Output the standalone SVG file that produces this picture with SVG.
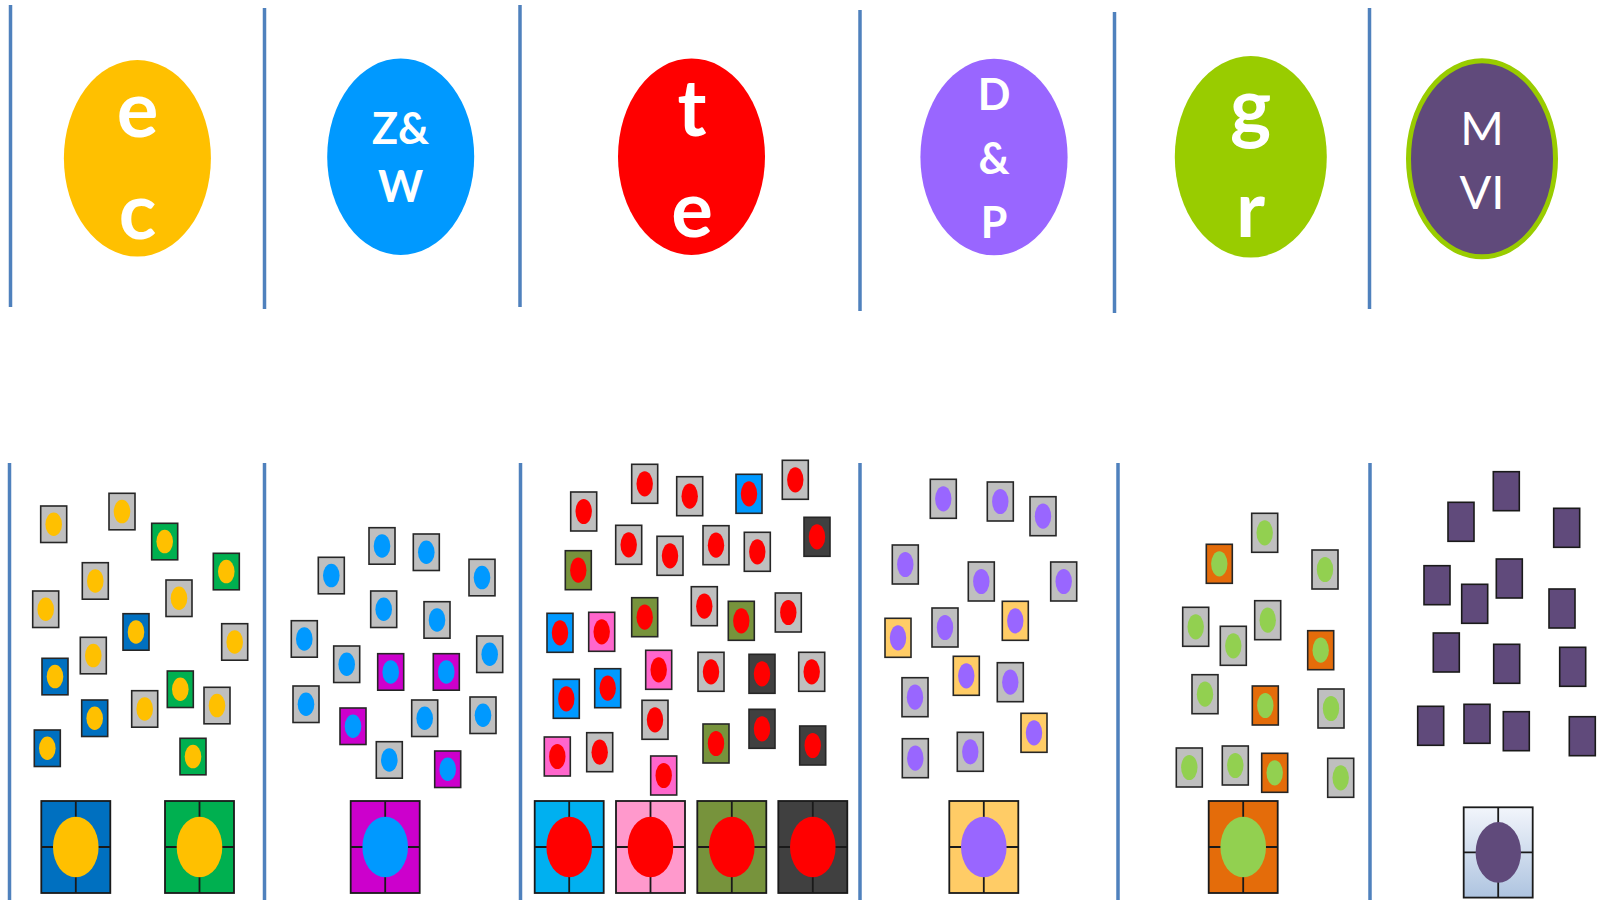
<svg xmlns="http://www.w3.org/2000/svg" xmlns:xlink="http://www.w3.org/1999/xlink" width="1602" height="900" viewBox="0 0 1602 900">
<style>
.sep{stroke:#4F81BD;stroke-width:3.5;fill:none}
.big{font-family:Lato,"Open Sans",sans-serif;font-weight:700;font-size:78px;fill:#fff;text-anchor:middle}
.mid{font-family:Lato,"Open Sans",sans-serif;font-weight:700;font-size:43px;fill:#fff;text-anchor:middle}
.reg{font-family:Lato,"Open Sans",sans-serif;font-weight:400;font-size:47px;fill:#fff;text-anchor:middle}
.gy{color:#BFBFBF}
</style>
<defs>
<g id="sA"><rect x="0" y="0" width="26" height="36.5" fill="currentColor" stroke="#262626" stroke-width="1.6"/><ellipse cx="13" cy="18.25" rx="8.3" ry="11.8"/></g>
<g id="sB"><rect x="0" y="0" width="26" height="39" fill="currentColor" stroke="#262626" stroke-width="1.6"/><ellipse cx="13" cy="19.5" rx="8.2" ry="12.6"/></g>
<g id="sC"><rect x="0" y="0" width="26" height="39" fill="currentColor" stroke="#1a1a1a" stroke-width="1.6"/></g>
<g id="bt"><rect x="0" y="0" width="69" height="92" fill="currentColor" stroke="#1a1a1a" stroke-width="1.8"/><path d="M34.5 0V92M0 46H69" stroke="#1a1a1a" stroke-width="1.8"/><ellipse cx="34.5" cy="46" rx="22.8" ry="30.3"/></g>
<linearGradient id="gr" x1="0" y1="0" x2="0" y2="1"><stop offset="0" stop-color="#F2F5FB"/><stop offset="1" stop-color="#AEC4E0"/></linearGradient>
</defs>

<g id="separators">
<line class="sep" x1="10.5" y1="5" x2="10.5" y2="307"/>
<line class="sep" x1="264.5" y1="8" x2="264.5" y2="309"/>
<line class="sep" x1="520" y1="5" x2="520" y2="307"/>
<line class="sep" x1="860" y1="10" x2="860" y2="311"/>
<line class="sep" x1="1114.5" y1="12" x2="1114.5" y2="313"/>
<line class="sep" x1="1369.5" y1="8" x2="1369.5" y2="309"/>
<line class="sep" x1="9.5" y1="463" x2="9.5" y2="900"/>
<line class="sep" x1="264.5" y1="463" x2="264.5" y2="900"/>
<line class="sep" x1="520.5" y1="463" x2="520.5" y2="900"/>
<line class="sep" x1="860" y1="463" x2="860" y2="900"/>
<line class="sep" x1="1118" y1="463" x2="1118" y2="900"/>
<line class="sep" x1="1370" y1="463" x2="1370" y2="900"/>
</g>

<g id="node-ec">
<ellipse cx="137.4" cy="158.3" rx="73.5" ry="98.3" fill="#FFC000"/>
<text class="big" x="137.5" y="137">e</text>
<text class="big" x="137.5" y="239">c</text>
</g>
<g id="node-zw">
<ellipse cx="400.7" cy="156.7" rx="73.5" ry="98.3" fill="#0099FF"/>
<text class="mid" x="400.5" y="144">Z&amp;</text>
<text class="mid" x="400.5" y="202">W</text>
</g>
<g id="node-te">
<ellipse cx="691.5" cy="156.7" rx="73.5" ry="98.3" fill="#FF0000"/>
<text class="big" x="692" y="136">t</text>
<text class="big" x="692" y="237">e</text>
</g>
<g id="node-dp">
<ellipse cx="994" cy="157" rx="73.6" ry="98.3" fill="#9966FF"/>
<text class="mid" x="994" y="110">D</text>
<text class="mid" x="994" y="174">&amp;</text>
<text class="mid" x="994" y="238">P</text>
</g>
<g id="node-gr">
<ellipse cx="1250.8" cy="156.8" rx="76" ry="100.8" fill="#99CC00"/>
<text class="big" x="1250.5" y="134">g</text>
<text class="big" x="1250.5" y="237">r</text>
</g>
<g id="node-mvi">
<ellipse cx="1482" cy="158.8" rx="73.5" ry="98" fill="#604A7B" stroke="#99CC00" stroke-width="5"/>
<text class="reg" x="1482" y="145">M</text>
<text class="reg" x="1482" y="209">VI</text>
</g>

<g id="group-ec" fill="#FFC000">
<use xlink:href="#sA" x="40.7" y="506" class="gy"/>
<use xlink:href="#sA" x="109" y="493.3" class="gy"/>
<use xlink:href="#sA" x="151.7" y="523.3" color="#00B050"/>
<use xlink:href="#sA" x="213.3" y="553.3" color="#00B050"/>
<use xlink:href="#sA" x="82.3" y="562.7" class="gy"/>
<use xlink:href="#sA" x="32.7" y="591" class="gy"/>
<use xlink:href="#sA" x="166" y="580" class="gy"/>
<use xlink:href="#sA" x="123" y="613.7" color="#0070C0"/>
<use xlink:href="#sA" x="221.7" y="623.7" class="gy"/>
<use xlink:href="#sA" x="80.3" y="637.3" class="gy"/>
<use xlink:href="#sA" x="42" y="658.3" color="#0070C0"/>
<use xlink:href="#sA" x="167.3" y="671" color="#00B050"/>
<use xlink:href="#sA" x="204" y="687.3" class="gy"/>
<use xlink:href="#sA" x="131.7" y="690.7" class="gy"/>
<use xlink:href="#sA" x="81.7" y="700" color="#0070C0"/>
<use xlink:href="#sA" x="34.3" y="730" color="#0070C0"/>
<use xlink:href="#sA" x="180" y="738.3" color="#00B050"/>
<use xlink:href="#bt" x="41.3" y="801" color="#0070C0"/>
<use xlink:href="#bt" x="165" y="801" color="#00B050"/>
</g>

<g id="group-zw" fill="#0099FF">
<use xlink:href="#sA" x="369" y="527.7" class="gy"/>
<use xlink:href="#sA" x="413.3" y="534" class="gy"/>
<use xlink:href="#sA" x="318.3" y="557.3" class="gy"/>
<use xlink:href="#sA" x="469" y="559.3" class="gy"/>
<use xlink:href="#sA" x="370.7" y="591" class="gy"/>
<use xlink:href="#sA" x="424" y="601.7" class="gy"/>
<use xlink:href="#sA" x="291.3" y="620.7" class="gy"/>
<use xlink:href="#sA" x="333.7" y="646" class="gy"/>
<use xlink:href="#sA" x="377.7" y="653.7" color="#CC00CC"/>
<use xlink:href="#sA" x="433.3" y="653.7" color="#CC00CC"/>
<use xlink:href="#sA" x="476.7" y="636" class="gy"/>
<use xlink:href="#sA" x="293" y="686" class="gy"/>
<use xlink:href="#sA" x="340" y="708" color="#CC00CC"/>
<use xlink:href="#sA" x="411.7" y="700" class="gy"/>
<use xlink:href="#sA" x="470" y="697" class="gy"/>
<use xlink:href="#sA" x="376.3" y="741.7" class="gy"/>
<use xlink:href="#sA" x="434.7" y="751" color="#CC00CC"/>
<use xlink:href="#bt" x="350.7" y="801" color="#CC00CC"/>
</g>

<g id="group-te" fill="#FF0000">
<use xlink:href="#sB" x="570.7" y="492" class="gy"/>
<use xlink:href="#sB" x="631.7" y="464.3" class="gy"/>
<use xlink:href="#sB" x="676.7" y="476.7" class="gy"/>
<use xlink:href="#sB" x="736" y="474.3" color="#0099FF"/>
<use xlink:href="#sB" x="782.3" y="460.3" class="gy"/>
<use xlink:href="#sB" x="804" y="517.3" color="#404040"/>
<use xlink:href="#sB" x="565.3" y="550.7" color="#77933C"/>
<use xlink:href="#sB" x="615.7" y="525.3" class="gy"/>
<use xlink:href="#sB" x="657" y="536.3" class="gy"/>
<use xlink:href="#sB" x="703" y="525.7" class="gy"/>
<use xlink:href="#sB" x="744.3" y="532.3" class="gy"/>
<use xlink:href="#sB" x="547" y="613.3" color="#0099FF"/>
<use xlink:href="#sB" x="588.7" y="612.3" color="#FF66CC"/>
<use xlink:href="#sB" x="631.7" y="597.7" color="#77933C"/>
<use xlink:href="#sB" x="691.3" y="586.7" class="gy"/>
<use xlink:href="#sB" x="728.3" y="601.3" color="#77933C"/>
<use xlink:href="#sB" x="775.3" y="593" class="gy"/>
<use xlink:href="#sB" x="645.7" y="650.3" color="#FF66CC"/>
<use xlink:href="#sB" x="698" y="652.3" class="gy"/>
<use xlink:href="#sB" x="749" y="654.3" color="#404040"/>
<use xlink:href="#sB" x="798.7" y="652.3" class="gy"/>
<use xlink:href="#sB" x="553.3" y="679.3" color="#0099FF"/>
<use xlink:href="#sB" x="594.7" y="668.7" color="#0099FF"/>
<use xlink:href="#sB" x="642" y="700.3" class="gy"/>
<use xlink:href="#sB" x="703" y="724" color="#77933C"/>
<use xlink:href="#sB" x="749" y="709.3" color="#404040"/>
<use xlink:href="#sB" x="799.7" y="726" color="#404040"/>
<use xlink:href="#sB" x="544.3" y="737" color="#FF66CC"/>
<use xlink:href="#sB" x="586.7" y="732.7" class="gy"/>
<use xlink:href="#sB" x="650.7" y="756" color="#FF66CC"/>
<use xlink:href="#bt" x="534.7" y="801" color="#00B0F0"/>
<use xlink:href="#bt" x="616" y="801" color="#FF99CC"/>
<use xlink:href="#bt" x="697.3" y="801" color="#77933C"/>
<use xlink:href="#bt" x="778.3" y="801" color="#404040"/>
</g>

<g id="group-dp" fill="#9966FF">
<use xlink:href="#sB" x="930.3" y="479.3" class="gy"/>
<use xlink:href="#sB" x="987.3" y="482" class="gy"/>
<use xlink:href="#sB" x="1030" y="496.7" class="gy"/>
<use xlink:href="#sB" x="892.3" y="545" class="gy"/>
<use xlink:href="#sB" x="968.3" y="562" class="gy"/>
<use xlink:href="#sB" x="1050.7" y="562" class="gy"/>
<use xlink:href="#sB" x="885" y="618.3" color="#FFCC66"/>
<use xlink:href="#sB" x="932" y="608" class="gy"/>
<use xlink:href="#sB" x="1002.3" y="601.3" color="#FFCC66"/>
<use xlink:href="#sB" x="953.3" y="656.3" color="#FFCC66"/>
<use xlink:href="#sB" x="997.3" y="662.7" class="gy"/>
<use xlink:href="#sB" x="902" y="677.7" class="gy"/>
<use xlink:href="#sB" x="1021" y="713.3" color="#FFCC66"/>
<use xlink:href="#sB" x="902.3" y="738.7" class="gy"/>
<use xlink:href="#sB" x="957.3" y="732.3" class="gy"/>
<use xlink:href="#bt" x="949.3" y="801" color="#FFCC66"/>
</g>

<g id="group-gr" fill="#92D050">
<use xlink:href="#sB" x="1251.7" y="513.3" class="gy"/>
<use xlink:href="#sB" x="1206.3" y="544.3" color="#E46C0A"/>
<use xlink:href="#sB" x="1312" y="550" class="gy"/>
<use xlink:href="#sB" x="1182.7" y="607.3" class="gy"/>
<use xlink:href="#sB" x="1254.7" y="600.7" class="gy"/>
<use xlink:href="#sB" x="1220.3" y="626.3" class="gy"/>
<use xlink:href="#sB" x="1307.7" y="630.7" color="#E46C0A"/>
<use xlink:href="#sB" x="1192" y="674.7" class="gy"/>
<use xlink:href="#sB" x="1252.3" y="686" color="#E46C0A"/>
<use xlink:href="#sB" x="1318" y="689" class="gy"/>
<use xlink:href="#sB" x="1176.3" y="748" class="gy"/>
<use xlink:href="#sB" x="1222.3" y="746" class="gy"/>
<use xlink:href="#sB" x="1261.7" y="753.3" color="#E46C0A"/>
<use xlink:href="#sB" x="1327.7" y="758.3" class="gy"/>
<use xlink:href="#bt" x="1208.7" y="801" color="#E46C0A"/>
</g>

<g id="group-mvi" color="#604A7B">
<use xlink:href="#sC" x="1493.3" y="471.7"/>
<use xlink:href="#sC" x="1448" y="502.3"/>
<use xlink:href="#sC" x="1553.7" y="508.3"/>
<use xlink:href="#sC" x="1424" y="565.7"/>
<use xlink:href="#sC" x="1496.3" y="559"/>
<use xlink:href="#sC" x="1461.7" y="584.3"/>
<use xlink:href="#sC" x="1549" y="589"/>
<use xlink:href="#sC" x="1433.3" y="633"/>
<use xlink:href="#sC" x="1493.7" y="644.3"/>
<use xlink:href="#sC" x="1559.7" y="647.3"/>
<use xlink:href="#sC" x="1417.7" y="706.3"/>
<use xlink:href="#sC" x="1464" y="704.3"/>
<use xlink:href="#sC" x="1503.3" y="711.7"/>
<use xlink:href="#sC" x="1569.3" y="716.7"/>
<g id="big-mvi">
<rect x="1463.7" y="807.3" width="69" height="90.3" fill="url(#gr)" stroke="#1a1a1a" stroke-width="1.8"/>
<path d="M1498.2 807.3V897.6M1463.7 852.4H1532.7" stroke="#1a1a1a" stroke-width="1.8"/>
<ellipse cx="1498.3" cy="852.4" rx="22.7" ry="30.3" fill="#604A7B"/>
</g>
</g>
</svg>
